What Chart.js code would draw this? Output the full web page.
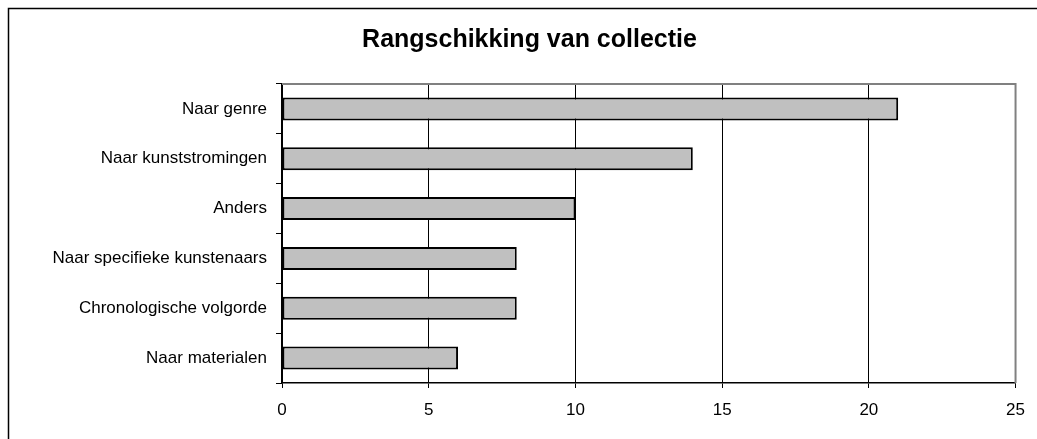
<!DOCTYPE html>
<html lang="nl">
<head>
    <meta charset="UTF-8">
    <title>Rangschikking van collectie</title>
    <script src="https://cdn.jsdelivr.net/npm/chart.js"></script>
    <style>
        html, body {
            margin: 0;
            padding: 0;
            background: #fff;
        }
        #wrap {
            width: 1037px;
            height: 439px;
        }
    </style>
</head>
<body>
    <div id="wrap"><canvas id="myChart" width="1037" height="439"></canvas></div>

    <script>
        const categories = ['Naar genre', 'Naar kunststromingen', 'Anders', 'Naar specifieke kunstenaars', 'Chronologische volgorde', 'Naar materialen'];
        const counts = [21, 14, 10, 8, 8, 6];
        const xTicks = [0, 5, 10, 15, 20, 25];

        // kader rond de hele grafiek + grijze rand boven/rechts van het plotgebied
        const frame = {
            id: 'frame',
            afterDraw(chart) {
                const c = chart.ctx;
                const a = chart.chartArea;
                c.save();
                c.strokeStyle = '#808080';
                c.lineWidth = 2;
                c.beginPath();
                c.moveTo(a.left, a.top);
                c.lineTo(a.right, a.top);
                c.lineTo(a.right, a.bottom);
                c.stroke();
                c.strokeStyle = '#000';
                c.lineWidth = 1.5;
                c.strokeRect(8.5, 8.5, 1060, 460);
                c.restore();
            }
        };

        const ctx = document.getElementById('myChart').getContext('2d');
        new Chart(ctx, {
            type: 'bar',
            data: {
                labels: categories,
                datasets: [{
                    data: counts,
                    backgroundColor: '#c0c0c0',
                    borderColor: '#000',
                    borderWidth: 2,
                    borderSkipped: false,
                    barPercentage: 0.46,
                    categoryPercentage: 1
                }]
            },
            options: {
                indexAxis: 'y',
                responsive: false,
                animation: false,
                layout: { padding: { left: 40, right: 18, top: 0, bottom: 0 } },
                plugins: {
                    legend: { display: false },
                    tooltip: { enabled: false },
                    title: {
                        display: true,
                        text: 'Rangschikking van collectie',
                        color: '#000',
                        font: { family: 'Liberation Sans, Arial', size: 25, weight: 'bold', lineHeight: 1.2 },
                        padding: { top: 25, bottom: 29 }
                    }
                },
                scales: {
                    x: {
                        min: 0,
                        max: 25,
                        afterBuildTicks: s => { s.ticks = xTicks.map(v => ({ value: v })); },
                        afterFit: s => { s.height = 56; },
                        border: { color: '#000', width: 1.5 },
                        grid: {
                            color: c => c.tick && c.tick.value === 25 ? '#808080' : '#000',
                            tickColor: '#000',
                            tickLength: 5,
                            lineWidth: 1
                        },
                        ticks: {
                            color: '#000',
                            padding: 12,
                            font: { family: 'Liberation Sans, Arial', size: 17 }
                        }
                    },
                    y: {
                        afterFit: s => { s.width = 242; },
                        border: { color: '#000', width: 1.5 },
                        grid: {
                            offset: true,
                            drawOnChartArea: false,
                            tickColor: '#000',
                            tickLength: 6
                        },
                        ticks: {
                            color: '#000',
                            padding: 9,
                            font: { family: 'Liberation Sans, Arial', size: 17 }
                        }
                    }
                }
            },
            plugins: [frame]
        });
    </script>
</body>
</html>
